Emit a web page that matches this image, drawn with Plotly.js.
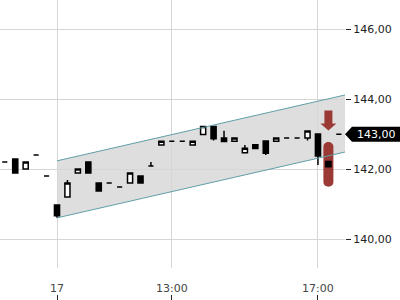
<!DOCTYPE html>
<html><head><meta charset="utf-8">
<script src="https://cdn.plot.ly/plotly-3.0.1.min.js"></script>
<style>html,body{margin:0;padding:0;background:#fff}#chart{width:400px;height:300px}</style>
</head><body><div id="chart"></div>
<script>
// candle index (bar number), 0 = first bar of day "17"
const idx   = [-5,-4,-3,-2,-1,0,1,2,3,4,5,6,7,8,9,10,11,12,13,14,15,16,17,18,19,20,21,22,23,24,25,26,27];
const open  = [142.21,142.29,142.01,142.41,141.81,140.98,141.21,141.89,142.21,141.61,141.61,141.49,141.61,141.81,142.09,142.69,142.80,142.80,142.69,142.99,143.22,142.89,142.80,142.47,142.70,142.81,142.80,142.89,142.89,142.89,143.01,142.22,143.00];
const high  = [142.21,142.29,142.21,142.41,141.81,140.98,141.69,142.01,142.21,141.61,141.61,141.49,141.89,141.81,142.21,142.80,142.80,142.80,142.80,143.22,143.22,143.10,142.89,142.69,142.70,142.81,142.89,142.89,142.89,143.09,143.01,142.22,143.00];
const low   = [142.21,141.89,142.01,142.41,141.81,140.61,141.21,141.89,141.89,141.38,141.61,141.49,141.61,141.61,142.09,142.69,142.80,142.80,142.69,142.99,142.82,142.79,142.80,142.47,142.59,142.41,142.80,142.89,142.89,142.82,142.12,142.07,143.00];
const close = [142.21,141.89,142.21,142.41,141.81,140.67,141.61,142.01,141.89,141.38,141.61,141.49,141.89,141.61,142.09,142.80,142.80,142.80,142.80,143.22,142.87,142.79,142.89,142.60,142.59,142.46,142.89,142.89,142.89,143.09,142.38,142.07,143.00];

// trend channel endpoints
const chanX     = [0, 28];
const chanUpper = [142.24, 144.15];
const chanLower = [140.61, 142.52];

// x axis ticks
const tickIdx   = [0, 11, 25];
const tickText  = ['17', '13:00', '17:00'];
const yTicks    = [140, 142, 144, 146];

// sell signal
const signalX      = [26];
const signalArrowY = [143.45];
const signalPillY  = [142.14];
const lastPrice    = 143.00;

const red = '#9b3a35';
const teal = '#5f9fa6';
const traces = [
  {type:'scatter', mode:'lines', x:chanX, y:chanUpper, line:{color:teal, width:1}, hoverinfo:'skip'},
  {type:'scatter', mode:'lines', x:chanX, y:chanLower, line:{color:teal, width:1}, hoverinfo:'skip'},
  {type:'candlestick', x:idx, open:open, high:high, low:low, close:close, whiskerwidth:0,
   increasing:{line:{color:'#000', width:1.5}, fillcolor:'#fff'},
   decreasing:{line:{color:'#000', width:1.5}, fillcolor:'#000'}}
];

const shapes = [];
// channel fill (below gridlines)
shapes.push({type:'path', xref:'x', yref:'y', layer:'below',
  path:'M '+chanX[0]+','+chanUpper[0]+' L '+chanX[1]+','+chanUpper[1]+' L '+chanX[1]+','+chanLower[1]+' L '+chanX[0]+','+chanLower[0]+' Z',
  fillcolor:'#dedede', line:{width:0}});
signalX.forEach((sx,i)=>{
  shapes.push({type:'path', xref:'x', yref:'y', xsizemode:'pixel', ysizemode:'pixel', xanchor:sx, yanchor:signalArrowY[i],
    path:'M -4 8 L 4 8 L 4 -5 L 8 -5 L 0 -12 L -8 -5 L -4 -5 Z', fillcolor:red, line:{width:0}, layer:'above'});
  shapes.push({type:'path', xref:'x', yref:'y', xsizemode:'pixel', ysizemode:'pixel', xanchor:sx, yanchor:signalPillY[i],
    path:'M -5 17.5 L -5 -17.5 C -5 -24 5 -24 5 -17.5 L 5 17.5 C 5 24 -5 24 -5 17.5 Z', fillcolor:red, line:{width:0}, layer:'between'});
});
// last price label box
shapes.push({type:'path', xref:'paper', yref:'y', xsizemode:'pixel', ysizemode:'pixel', xanchor:1, yanchor:lastPrice,
  path:'M 0 0 L 7 7.5 L 60 7.5 L 60 -7.5 L 7 -7.5 Z', fillcolor:'#000', line:{width:0}});

const layout = {
  width:400, height:300,
  margin:{l:0, r:55, t:0, b:0},
  paper_bgcolor:'#fff', plot_bgcolor:'rgba(0,0,0,0)',
  showlegend:false,
  separators:', ',
  font:{family:'DejaVu Sans', size:11, color:'#222'},
  boxgap:0.3,
  xaxis:{range:[-5.46, 27.59], anchor:'free', position:0, tickmode:'array', tickvals:tickIdx, ticktext:tickText,
    ticks:'inside', ticklen:5, tickcolor:'#222', ticklabelposition:'inside',
    showgrid:true, gridcolor:'#d6d6d6', zeroline:false, showline:false, rangeslider:{visible:false}},
  yaxis:{domain:[0.107, 1], range:[139.18, 146.837], side:'right', tickmode:'array', tickvals:yTicks, tickformat:'.2f',
    ticks:'outside', ticklen:5, tickcolor:'#222', showgrid:true, gridcolor:'#d6d6d6', zeroline:false, showline:false},
  shapes:shapes,
  annotations:[{xref:'paper', yref:'y', x:1, y:lastPrice, xanchor:'center', yanchor:'middle', xshift:31,
    text:'143,00', showarrow:false, font:{color:'#fff', size:11, family:'DejaVu Sans'}}]
};
Plotly.newPlot('chart', traces, layout, {staticPlot:true});
</script>
</body></html>
